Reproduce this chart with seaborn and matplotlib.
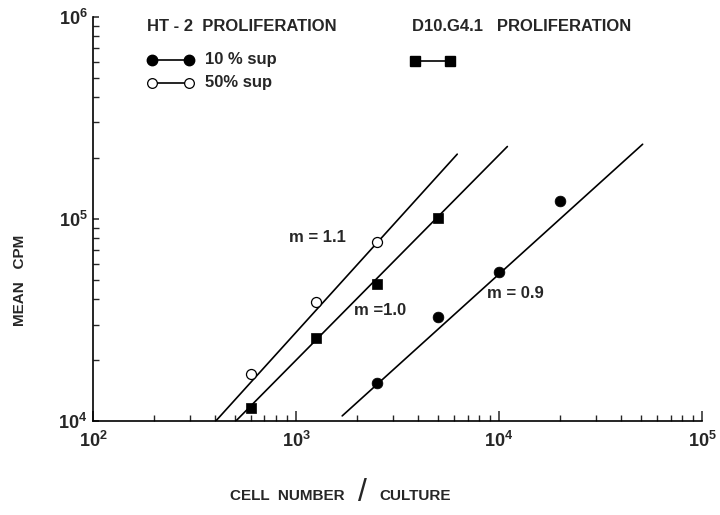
import matplotlib
matplotlib.use("Agg")
import matplotlib.pyplot as plt
from matplotlib.lines import Line2D
from matplotlib.ticker import LogLocator, NullFormatter
import seaborn as sns

# HT-2 proliferation, 10% sup (filled circles)
ht2_10_cells = [2500, 5000, 10000, 20000]
ht2_10_cpm = [15400, 32600, 54500, 123000]

# HT-2 proliferation, 50% sup (open circles)
ht2_50_cells = [600, 1250, 2500]
ht2_50_cpm = [17100, 38700, 77000]

# D10.G4.1 proliferation (filled squares)
d10_cells = [600, 1250, 2500, 5000]
d10_cpm = [11600, 25700, 47500, 101000]

# fitted lines, end points
fit_10_cells = [1690, 51000]
fit_10_cpm = [10600, 234000]
fit_50_cells = [403, 6230]
fit_50_cpm = [10000, 209000]
fit_d10_cells = [506, 11000]
fit_d10_cpm = [10000, 228000]

slope_labels = ["m = 1.1", "m =1.0", "m = 0.9"]


def style():
    sns.set_theme(style="ticks")
    plt.rcParams["font.family"] = ["Liberation Sans", "DejaVu Sans"]
    plt.rcParams["font.weight"] = "bold"
    plt.rcParams["mathtext.fontset"] = "custom"
    plt.rcParams["mathtext.rm"] = "Liberation Sans:bold"
    plt.rcParams["mathtext.bf"] = "Liberation Sans:bold"
    plt.rcParams["mathtext.default"] = "rm"


style()
fig = plt.figure(figsize=(7.2, 5.15), dpi=100)
ax = fig.add_axes([0.129, 0.1825, 0.846, 0.785])

lw = 1.2
# fitted lines
for fx, fy in [(fit_50_cells, fit_50_cpm), (fit_d10_cells, fit_d10_cpm),
               (fit_10_cells, fit_10_cpm)]:
    sns.lineplot(x=fx, y=fy, color="black", lw=lw, ax=ax)

# data points
sns.scatterplot(x=ht2_10_cells, y=ht2_10_cpm, marker="o", s=60, color="black",
                edgecolor="black", linewidth=0.5, zorder=3, ax=ax)
sns.scatterplot(x=ht2_50_cells, y=ht2_50_cpm, marker="o", s=52, color="white",
                edgecolor="black", linewidth=0.9, zorder=3, ax=ax)
sns.scatterplot(x=d10_cells, y=d10_cpm, marker="s", s=62, color="black",
                edgecolor="black", linewidth=0.5, zorder=3, ax=ax)

# slope annotations
ax.text(1270, 80500, slope_labels[0], ha="center", va="center", fontsize=12)
ax.text(2600, 35200, slope_labels[1], ha="center", va="center", fontsize=12)
ax.text(12000, 42500, slope_labels[2], ha="center", va="center", fontsize=12)

ax.set_xscale("log")
ax.set_yscale("log")
ax.set_xlim(100, 1e5)
ax.set_ylim(1e4, 1e6)

for axis in (ax.xaxis, ax.yaxis):
    axis.set_major_locator(LogLocator(base=10))
    axis.set_minor_locator(LogLocator(base=10, subs=range(2, 10)))
    axis.set_minor_formatter(NullFormatter())

ax.tick_params(axis="x", which="major", direction="in", length=7, width=1.1,
               pad=7, labelsize=13)
ax.tick_params(axis="x", which="minor", direction="in", length=4, width=1.0)
ax.tick_params(axis="y", which="major", direction="in", length=4, width=1.1,
               pad=4, labelsize=13)
ax.tick_params(axis="y", which="minor", direction="in", length=4, width=1.0)

sns.despine(ax=ax)
for side in ("left", "bottom"):
    ax.spines[side].set_linewidth(1.2)
    ax.spines[side].set_color("black")

# axis labels
fig.text(0.028, 0.455, "MEAN   CPM", rotation=90, ha="center", va="center",
         fontsize=11)
fig.text(0.478, 0.037, "CELL  NUMBER", ha="right", va="center", fontsize=11)
fig.text(0.504, 0.042, "/", ha="center", va="center", fontsize=23,
         fontweight="normal")
fig.text(0.527, 0.037, "CULTURE", ha="left", va="center", fontsize=11)

# legend drawn by hand
ax.text(0.089, 0.975, "HT - 2  PROLIFERATION", transform=ax.transAxes,
        ha="left", va="center", fontsize=12)
ax.text(0.524, 0.975, "D10.G4.1   PROLIFERATION", transform=ax.transAxes,
        ha="left", va="center", fontsize=12)
ax.add_artist(Line2D([0.097, 0.158], [0.894, 0.894], transform=ax.transAxes,
                     color="black", lw=lw, marker="o", ms=7.5, mfc="black",
                     mec="black", clip_on=False))
ax.add_artist(Line2D([0.097, 0.158], [0.837, 0.837], transform=ax.transAxes,
                     color="black", lw=lw, marker="o", ms=7, mfc="white",
                     mec="black", mew=0.9, clip_on=False))
ax.text(0.184, 0.894, "10 % sup", transform=ax.transAxes, ha="left",
        va="center", fontsize=12)
ax.text(0.184, 0.837, "50% sup", transform=ax.transAxes, ha="left",
        va="center", fontsize=12)
ax.add_artist(Line2D([0.529, 0.586], [0.891, 0.891], transform=ax.transAxes,
                     color="black", lw=lw, marker="s", ms=7.5, mfc="black",
                     mec="black", clip_on=False))

fig.savefig("out.png", dpi=100)
